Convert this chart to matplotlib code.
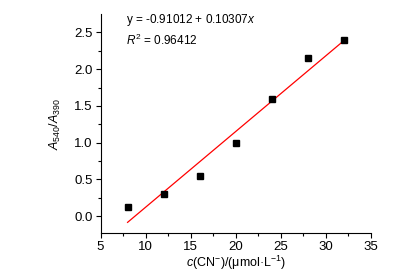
import numpy as np
import matplotlib.pyplot as plt

plt.rcParams['font.family'] = ['Liberation Sans', 'DejaVu Sans']
plt.rcParams['mathtext.fontset'] = 'custom'
plt.rcParams['mathtext.rm'] = 'Liberation Sans'
plt.rcParams['mathtext.it'] = 'Liberation Sans:italic'

# data
conc = [8, 12, 16, 20, 24, 28, 32]
ratio = [0.13, 0.30, 0.54, 0.99, 1.59, 2.15, 2.40]
intercept = -0.91012
slope = 0.10307
r2 = 0.96412

fig = plt.figure(figsize=(4.19, 2.77), dpi=100)
ax = fig.add_axes([0.240, 0.159, 0.645, 0.790])

ax.plot(conc, ratio, 's', color='black', markersize=5, zorder=3)
xfit = np.array([conc[0], conc[-1]])
ax.plot(xfit, intercept + slope * xfit, color='red', lw=0.9)

ax.set_xlim(5, 35)
ax.set_ylim(-0.23, 2.75)
ax.set_xticks([5, 10, 15, 20, 25, 30, 35])
ax.set_xticks(np.arange(7.5, 35, 5), minor=True)
ax.set_yticks([0.0, 0.5, 1.0, 1.5, 2.0, 2.5])
ax.set_yticks(np.arange(0.25, 2.75, 0.5), minor=True)
ax.set_yticklabels(['0.0', '0.5', '1.0', '1.5', '2.0', '2.5'])

for s in ['top', 'right']:
    ax.spines[s].set_visible(False)
for s in ['left', 'bottom']:
    ax.spines[s].set_linewidth(0.8)
ax.tick_params(which='major', direction='out', length=3.5, width=0.8, labelsize=9.5, pad=2)
ax.tick_params(which='minor', direction='out', length=2, width=0.8)

ax.set_xlabel(r'$c$(CN$^{-}$)/(μmol·L$^{-1}$)', fontsize=9, labelpad=1)
ax.set_ylabel(r'$A_{540}/A_{390}$', fontsize=9, labelpad=8)

ax.text(0.095, 0.975, 'y = %.5f + %.5f$x$' % (intercept, slope), transform=ax.transAxes,
        fontsize=8.5, va='center')
ax.text(0.095, 0.88, '$R^2$ = %.5f' % r2, transform=ax.transAxes,
        fontsize=8.5, va='center')

fig.savefig('out.png', dpi=100)
